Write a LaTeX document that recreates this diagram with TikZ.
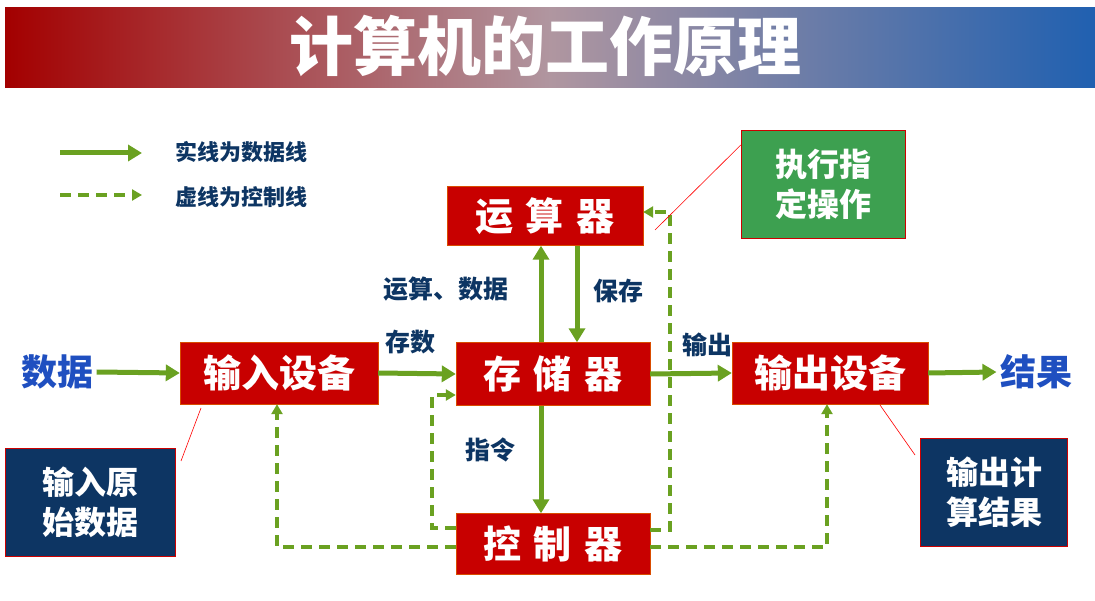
\documentclass[tikz,border=0pt]{standalone}
\usepackage{fontspec}
\setmainfont{Noto Sans CJK SC}
\usetikzlibrary{arrows.meta}
\definecolor{gr}{HTML}{6AA121}
\definecolor{bred}{HTML}{C80000}
\definecolor{navy}{HTML}{0D3563}
\definecolor{lblue}{HTML}{1F4FC0}
\definecolor{txt}{HTML}{0D3563}
\begin{document}
\begin{tikzpicture}[x=1pt,y=-1pt,
  box/.style={fill=bred,draw=bred!70!yellow,text=white,font=\fontsize{38}{40}\selectfont\bfseries,inner sep=0},
  nbox/.style={fill=navy,draw=red!80!black,text=white,font=\fontsize{32}{40}\selectfont\bfseries,align=center,inner sep=0},
  data/.style={gr,line width=5pt,-{Triangle[length=14pt,width=16pt]}},
  ctrl/.style={gr,line width=3.5pt,dash pattern=on 11pt off 7pt,-{Triangle[length=10pt,width=11pt]}},
  lab/.style={text=txt,font=\fontsize{25}{27}\selectfont\bfseries},
  note/.style={red,line width=0.6pt}]
\useasboundingbox (0,0) rectangle (1095,601);
\shade[left color=red!55!black!80!red, right color={rgb,255:red,32;green,96;blue,176}, middle color={rgb,255:red,176;green,150;blue,160}] (5,8) rectangle (1095,88);
\node[text=white,font=\fontsize{64}{66}\selectfont\bfseries] (title) at (545,46) {计算机的工作原理};
% legend
\coordinate (l1a) at (60,153); \coordinate (l1b) at (142,153);
\coordinate (l2a) at (60,195); \coordinate (l2b) at (142,195);
\draw[data] (l1a) -- (l1b);
\draw[ctrl] (l2a) -- (l2b);
\node[lab,anchor=west,font=\fontsize{22}{24}\selectfont\bfseries] (lg1) at (172,152) {实线为数据线};
\node[lab,anchor=west,font=\fontsize{22}{24}\selectfont\bfseries] (lg2) at (172,197) {虚线为控制线};
% boxes
\node[box,minimum width=196pt,minimum height=59pt] (alu) at (545,216) {运\,\,算\,\,器};
\node[box,minimum width=194pt,minimum height=63pt] (mem) at (553,374) {存\,\,储\,\,器};
\node[box,minimum width=194pt,minimum height=61pt] (cu) at (553,544) {控\,\,制\,\,器};
\node[box,minimum width=198pt,minimum height=62pt] (in) at (279,373) {输入设备};
\node[box,minimum width=196pt,minimum height=62pt] (out) at (830,373) {输出设备};
\node[nbox,fill={rgb,255:red,61;green,160;blue,80},draw=red!80!black,minimum width=164pt,minimum height=108pt] (exe) at (823,184) {执行指\\定操作};
\node[nbox,minimum width=170pt,minimum height=108pt] (inn) at (90,502) {输入原\\始数据};
\node[nbox,minimum width=147pt,minimum height=108pt] (outn) at (994,492) {输出计\\算结果};
\node[text=lblue,font=\fontsize{36}{38}\selectfont\bfseries] (sj) at (57,372) {数据};
\node[text=lblue,font=\fontsize{36}{38}\selectfont\bfseries] (jg) at (1036,372) {结果};
% labels
\node[lab] (a1) at (446,289) {运算、数据};
\node[lab] (a2) at (618,291) {保存};
\node[lab] (a3) at (410,342) {存数};
\node[lab] (a4) at (707,345) {输出};
\node[lab] (a5) at (490,450) {指令};
% data arrows
\draw[data] (sj.east) -- (in.west);
\draw[data] (in.east) -- (mem.west);
\draw[data] (mem.east) -- (out.west);
\draw[data] (out.east) -- (jg.west);
\draw[data] (mem.north -| 541,0) -- (alu.south -| 541,0);
\draw[data] (alu.south -| 577,0) -- (mem.north -| 577,0);
\draw[data] (mem.south -| 541,0) -- (cu.north -| 541,0);
% control
\draw[ctrl] (cu.west |- 0,528) -| (432,395) -- (mem.west |- 0,395);
\draw[ctrl] (cu.west |- 0,547) -| (in.south -| 277,0);
\draw[ctrl] (cu.east |- 0,530) -| (670,212) -- (alu.east |- 0,212);
\draw[ctrl] (cu.east |- 0,547) -| (out.south -| 827,0);
% notes
\draw[note] (655,230) -- (exe.west |- 0,145);
\draw[note] (201,408) -- (181,461);
\draw[note] (880,405) -- (915,455);
\end{tikzpicture}
\end{document}
